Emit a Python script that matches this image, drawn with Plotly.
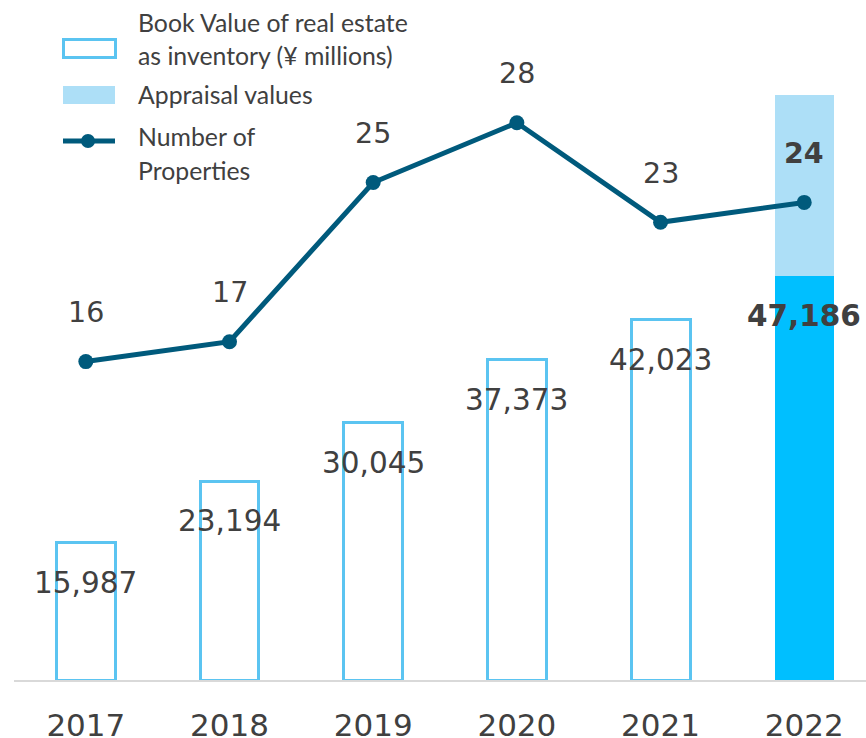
import plotly.graph_objects as go

# data
years = ["2017", "2018", "2019", "2020", "2021", "2022"]
book_value = [15987, 23194, 30045, 37373, 42023, 47186]
appraisal_extra = [21100]          # part above book value, 2022 only (estimated)
properties = [16, 17, 25, 28, 23, 24]

book_labels = ["15,987", "23,194", "30,045", "37,373", "42,023", "47,186"]

OUTLINE = "#5BC4F1"
SOLID = "#00BFFF"
LIGHT = "#ADDFF7"
LINE = "#005A7C"
TEXT = "#404040"

W, H = 866, 738
M_L, M_R, M_T, M_B = 14, 0, 0, 58
PW, PH = W - M_L - M_R, H - M_T - M_B
BASE = H - M_B  # pixel row of the baseline


def px_x(x):
    return (x - M_L) / PW


def px_y(y):
    return (BASE - y) / PH


fig = go.Figure()

# book value bars (hollow except the latest year)
fig.add_trace(go.Bar(
    x=years, y=book_value, width=0.41,
    marker=dict(
        color=["white"] * 5 + [SOLID],
        line=dict(color=[OUTLINE] * 5 + [SOLID], width=[3] * 5 + [0]),
    ),
    showlegend=False,
))

# appraisal values on top of 2022
fig.add_trace(go.Bar(
    x=years[-1:], y=appraisal_extra, width=0.41,
    marker=dict(color=LIGHT, line=dict(width=0)),
    showlegend=False,
))

# number of properties
fig.add_trace(go.Scatter(
    x=years, y=properties, yaxis="y2", mode="lines+markers",
    line=dict(color=LINE, width=5),
    marker=dict(color=LINE, size=15),
    showlegend=False,
))

# labels for bars and line (x given as category index)
for i, yr in enumerate(years):
    last = i == len(years) - 1
    fig.add_annotation(
        x=i, y=book_value[i], yshift=-40, showarrow=False,
        text=f"<b>{book_labels[i]}</b>" if last else book_labels[i],
        font=dict(family="DejaVu Sans", size=29.5, color=TEXT),
    )
    fig.add_annotation(
        x=i, y=properties[i], yref="y2", yshift=49, showarrow=False,
        text=f"<b>{properties[i]}</b>" if last else str(properties[i]),
        font=dict(family="DejaVu Sans", size=28.5, color=TEXT),
    )

# custom legend
fig.add_shape(type="rect", xref="paper", yref="paper",
              x0=px_x(63.5), x1=px_x(115.5), y0=px_y(57.5), y1=px_y(39.5),
              line=dict(color=OUTLINE, width=3), fillcolor="white")
fig.add_shape(type="rect", xref="paper", yref="paper",
              x0=px_x(63), x1=px_x(115), y0=px_y(104), y1=px_y(86),
              line=dict(width=0), fillcolor=LIGHT)
fig.add_shape(type="line", xref="paper", yref="paper",
              x0=px_x(63), x1=px_x(115), y0=px_y(141), y1=px_y(141),
              line=dict(color=LINE, width=5))
fig.add_shape(type="circle", xref="paper", yref="paper",
              x0=px_x(81), x1=px_x(95), y0=px_y(148), y1=px_y(134),
              line=dict(width=0), fillcolor=LINE)

legend_text = [
    ("Book Value of real estate", 23),
    ("as inventory (¥ millions)", 55),
    ("Appraisal values", 95),
    ("Number of", 137),
    ("Properties", 170),
]
for txt, ypx in legend_text:
    fig.add_annotation(
        xref="paper", yref="paper", x=px_x(136), y=px_y(ypx),
        xanchor="left", yanchor="middle", showarrow=False, text=txt,
        font=dict(family="Lato", size=24.8, color=TEXT),
    )

fig.update_layout(
    width=W, height=H,
    margin=dict(l=M_L, r=M_R, t=M_T, b=M_B),
    paper_bgcolor="white", plot_bgcolor="white",
    barmode="stack",
    xaxis=dict(
        type="category", automargin=False,
        range=[-0.5, 5.43], showline=True, linecolor="#D9D9D9", linewidth=2,
        showgrid=False, ticks="", ticklabelstandoff=17,
        tickfont=dict(family="DejaVu Sans", size=31, color=TEXT),
    ),
    yaxis=dict(range=[0, BASE / 0.00857], visible=False, showgrid=False),
    yaxis2=dict(range=[0, BASE / 19.9], overlaying="y", visible=False, showgrid=False),
)

# drop the page's default body margin so the figure sits at the window corner
fig.write_html("out.html", config={"displayModeBar": False},
               post_script="document.body.style.margin='0';")
